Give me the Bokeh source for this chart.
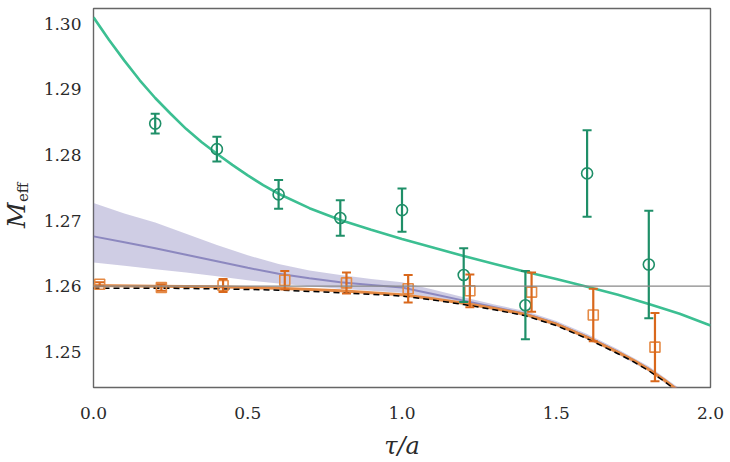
import math
from bokeh.plotting import figure
from bokeh.layouts import row
from bokeh.models import (Range1d, FixedTicker, PrintfTickFormatter, Span, Label,
                          Whisker, ColumnDataSource, TeeHead)
from bokeh.embed import file_html
from bokeh.resources import INLINE

# ---- data ----
tau_green = [0.2, 0.4, 0.6, 0.8, 1.0, 1.2, 1.4, 1.6, 1.8]
m_green = [1.2848, 1.2809, 1.2740, 1.2704, 1.2716, 1.2617, 1.2571, 1.2772, 1.2633]
err_green = [0.0015, 0.0019, 0.0022, 0.0027, 0.0033, 0.0041, 0.0052, 0.0066, 0.0082]

tau_orange = [0.02, 0.22, 0.42, 0.62, 0.82, 1.02, 1.22, 1.42, 1.62, 1.82]
m_orange = [1.2603, 1.2598, 1.2601, 1.2609, 1.2605, 1.2596, 1.2593, 1.2591, 1.2556, 1.2507]
err_orange = [0.0003, 0.0005, 0.0010, 0.0014, 0.0016, 0.0021, 0.0025, 0.0030, 0.0040, 0.0052]

tau_curve = [0.0, 0.05, 0.1, 0.15, 0.2, 0.25, 0.3, 0.35, 0.4, 0.45, 0.5, 0.55, 0.6,
             0.7, 0.8, 0.9, 1.0, 1.1, 1.2, 1.3, 1.4, 1.5, 1.6, 1.7, 1.8, 1.9, 2.0]
green_fit = [1.3010, 1.2976, 1.2944, 1.2914, 1.2887, 1.2863, 1.2840, 1.2820, 1.2802, 1.2785,
             1.2769, 1.2754, 1.2741, 1.2719, 1.2701, 1.2686, 1.2672, 1.2659, 1.2646, 1.2634,
             1.2622, 1.2611, 1.2599, 1.2587, 1.2573, 1.2558, 1.2540]

tau_model = [0.0, 0.2, 0.4, 0.6, 0.8, 1.0, 1.1, 1.2, 1.3, 1.4, 1.5, 1.6, 1.7, 1.75, 1.8, 1.85, 1.9]
model_dashed = [1.2597, 1.2597, 1.2596, 1.2594, 1.2590, 1.2585, 1.2579, 1.2572, 1.2564, 1.2555,
                1.2540, 1.2520, 1.2497, 1.2485, 1.2471, 1.2455, 1.2437]
orange_fit = [1.2601, 1.2600, 1.2599, 1.2597, 1.2593, 1.2587, 1.2581, 1.2574, 1.2566, 1.2557,
              1.2542, 1.2522, 1.2499, 1.2487, 1.2473, 1.2457, 1.2439]

tau_band = [0.0, 0.1, 0.2, 0.3, 0.4, 0.5, 0.6, 0.7, 0.8, 0.9, 1.0,
            1.1, 1.2, 1.3, 1.4, 1.5, 1.6, 1.7, 1.8, 1.9]
band_center = [1.2676, 1.2667, 1.2658, 1.2648, 1.2638, 1.2628, 1.2619, 1.2612, 1.2606, 1.2602, 1.2598,
               1.2588, 1.2578, 1.2568, 1.2558, 1.2543, 1.2523, 1.2500, 1.2474, 1.2440]
band_upper = [1.2727, 1.2711, 1.2697, 1.2680, 1.2663, 1.2647, 1.2634, 1.2624, 1.2617, 1.2611, 1.2606,
              1.2595, 1.2583, 1.2572, 1.2562, 1.2547, 1.2527, 1.2504, 1.2478, 1.2444]
band_lower = [1.2636, 1.2631, 1.2626, 1.2621, 1.2615, 1.2609, 1.2604, 1.2600, 1.2596, 1.2593, 1.2590,
              1.2582, 1.2573, 1.2564, 1.2554, 1.2539, 1.2519, 1.2496, 1.2470, 1.2436]

ref_level = 1.26
x_ticks = [0.0, 0.5, 1.0, 1.5, 2.0]
y_ticks = [1.25, 1.26, 1.27, 1.28, 1.29, 1.30]

# ---- colours ----
GREEN_PT = "#1f8f68"
GREEN_LINE = "#3cbf92"
ORANGE_PT = "#d9681c"
ORANGE_LINE = "#e58a45"
PURPLE = "#7570b3"
FONT = "DejaVu Serif"
TXT = "#2a2a2a"

LEFT_W = 34
H = 462

# narrow strip holding the y-axis title (M with subscript "eff")
lab = figure(width=LEFT_W, height=H, output_backend="svg", toolbar_location=None,
             x_range=Range1d(0, LEFT_W), y_range=Range1d(0, H),
             x_axis_location=None, y_axis_location=None,
             min_border=0, min_border_left=0, min_border_right=0,
             min_border_top=0, min_border_bottom=0)
lab.outline_line_color = None
lab.xgrid.visible = False
lab.ygrid.visible = False
lab.background_fill_color = "white"
lab.border_fill_color = "white"
lab.add_layout(Label(x=16, y=210, text="M", text_font=FONT,
                     text_font_style="italic", text_font_size="25px", text_color=TXT,
                     text_align="center", text_baseline="middle", angle=math.pi / 2))
lab.add_layout(Label(x=22, y=238, text="eff", text_font=FONT,
                     text_font_size="15px", text_color=TXT,
                     text_align="center", text_baseline="middle", angle=math.pi / 2))

p = figure(width=730 - LEFT_W, height=H, output_backend="svg", toolbar_location=None,
           x_range=Range1d(0, 2), y_range=Range1d(1.24455, 1.30235),
           min_border_left=93 - LEFT_W, min_border_right=20, min_border_top=8, min_border_bottom=73)
p.background_fill_color = "white"
p.border_fill_color = "white"
p.outline_line_color = "#666666"
p.outline_line_width = 1.4
p.xgrid.visible = False
p.ygrid.visible = False

for ax in (p.xaxis[0], p.yaxis[0]):
    ax.axis_line_color = None
    ax.major_tick_line_color = None
    ax.minor_tick_line_color = None
    ax.major_label_text_font = FONT
    ax.major_label_text_font_size = "17px"
    ax.major_label_text_color = TXT
p.xaxis[0].ticker = FixedTicker(ticks=x_ticks)
p.xaxis[0].formatter = PrintfTickFormatter(format="%.1f")
p.xaxis[0].major_label_standoff = 13
p.xaxis[0].axis_label = "τ/a"
p.xaxis[0].axis_label_text_font = FONT
p.xaxis[0].axis_label_text_font_style = "italic"
p.xaxis[0].axis_label_text_font_size = "24px"
p.xaxis[0].axis_label_text_color = TXT
p.xaxis[0].axis_label_standoff = 10
p.yaxis[0].ticker = FixedTicker(ticks=y_ticks)
p.yaxis[0].formatter = PrintfTickFormatter(format="%.2f")
p.yaxis[0].major_label_standoff = 6

# band
p.varea(x=tau_band, y1=band_lower, y2=band_upper, fill_color=PURPLE, fill_alpha=0.35)
p.line(tau_band, band_center, line_color=PURPLE, line_alpha=0.75, line_width=2)

# reference level
p.add_layout(Span(location=ref_level, dimension="width", line_color="#888888", line_width=1.3))

# fits
p.line(tau_model, orange_fit, line_color=ORANGE_LINE, line_width=3)
p.line(tau_model, model_dashed, line_color="black", line_width=1.5, line_dash="6 4")
p.line(tau_curve, green_fit, line_color=GREEN_LINE, line_width=2.6)

# error bars
def bars(xs, ms, es, color, cap):
    src = ColumnDataSource(dict(x=xs, upper=[m + e for m, e in zip(ms, es)],
                                lower=[m - e for m, e in zip(ms, es)]))
    w = Whisker(base="x", upper="upper", lower="lower", source=src,
                line_color=color, line_width=2.2,
                upper_head=TeeHead(size=cap, line_color=color, line_width=2),
                lower_head=TeeHead(size=cap, line_color=color, line_width=2))
    w.level = "glyph"
    p.add_layout(w)

bars(tau_green, m_green, err_green, GREEN_PT, 9)
bars(tau_orange, m_orange, err_orange, ORANGE_PT, 9)

p.scatter(tau_green, m_green, marker="circle", size=11, fill_color=None,
          line_color=GREEN_PT, line_width=1.6)
p.scatter(tau_orange, m_orange, marker="square", size=10, fill_color=None,
          line_color=ORANGE_LINE, line_width=1.6)

layout = row(lab, p, spacing=0)
open("out.html", "w").write(file_html(layout, INLINE))
